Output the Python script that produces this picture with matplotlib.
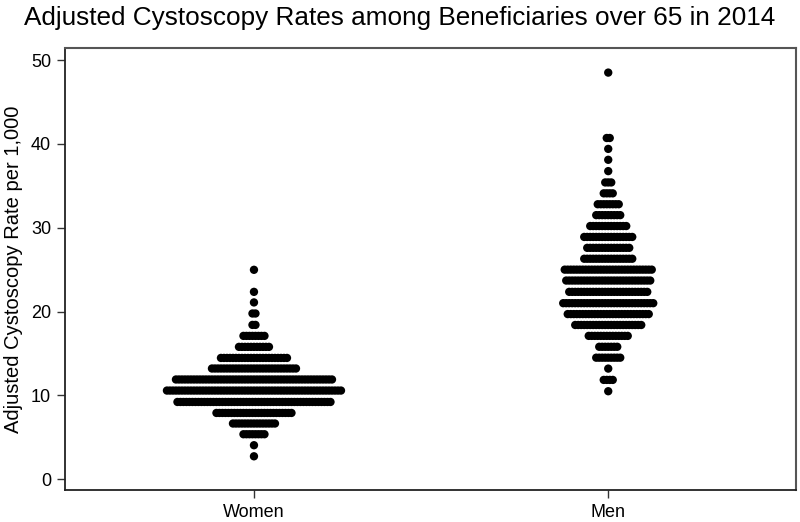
import numpy as np
import matplotlib
matplotlib.use("Agg")
import matplotlib.pyplot as plt

plt.rcParams['font.family'] = ['Liberation Sans', 'DejaVu Sans']

# groups on the x axis
groups = ["Women", "Men"]

# binned rows: y value of each row and number of dots in it
women_rows = [24.98, 22.35, 21.09, 19.77, 18.41, 17.10, 15.79, 14.47, 13.21,
              11.90, 10.58, 9.22, 7.91, 6.65, 5.37, 4.06, 2.74]
women_counts = [1, 1, 1, 2, 2, 8, 11, 23, 29, 53, 59, 52, 26, 15, 8, 1, 1]

men_rows = [48.5, 40.7, 39.4, 38.1, 36.75, 35.4, 34.1, 32.8, 31.5, 30.2,
            28.9, 27.6, 26.3, 25.0, 23.7, 22.35, 21.0, 19.7, 18.4, 17.1,
            15.8, 14.5, 13.2, 11.85, 10.5]
men_counts = [1, 2, 1, 1, 1, 3, 4, 8, 9, 13, 17, 15, 17, 30, 29, 27, 31, 28,
              23, 14, 7, 9, 1, 4, 1]

yticks = [0, 10, 20, 30, 40, 50]

fig = plt.figure(figsize=(8, 5.22), dpi=100)
ax = fig.add_axes([0.08125, 0.0613, 0.91375, 0.8467])

dx = 0.00847  # horizontal step between dots


def dots(center, rows, counts):
    xs, ys = [], []
    for y, n in zip(rows, counts):
        off = (np.arange(n) - (n - 1) / 2.0) * dx
        xs.extend(center + off)
        ys.extend([y] * n)
    return xs, ys


for i, (rows, counts) in enumerate([(women_rows, women_counts), (men_rows, men_counts)]):
    xs, ys = dots(i + 1, rows, counts)
    ax.scatter(xs, ys, s=36, color="black", edgecolors="none", zorder=3)

ax.set_xlim(0.4666, 2.53)
ax.set_ylim(-1.28, 51.43)
ax.set_xticks([1, 2])
ax.set_xticklabels(groups, fontsize=13)
ax.set_yticks(yticks)
ax.set_yticklabels([str(t) for t in yticks], fontsize=13)
ax.tick_params(axis='both', direction='out', length=6, width=1, color='#333333', pad=4)

for side in ['left', 'bottom']:
    ax.spines[side].set_color('#222222')
    ax.spines[side].set_linewidth(1.3)
for side in ['top', 'right']:
    ax.spines[side].set_color('#555555')
    ax.spines[side].set_linewidth(1.5)

ax.set_ylabel("Adjusted Cystoscopy Rate per 1,000", fontsize=14.5, labelpad=6)
fig.text(0.5, 0.965, "Adjusted Cystoscopy Rates among Beneficiaries over 65 in 2014",
         ha='center', va='center', fontsize=18.8)

fig.savefig("out.png", dpi=100)
